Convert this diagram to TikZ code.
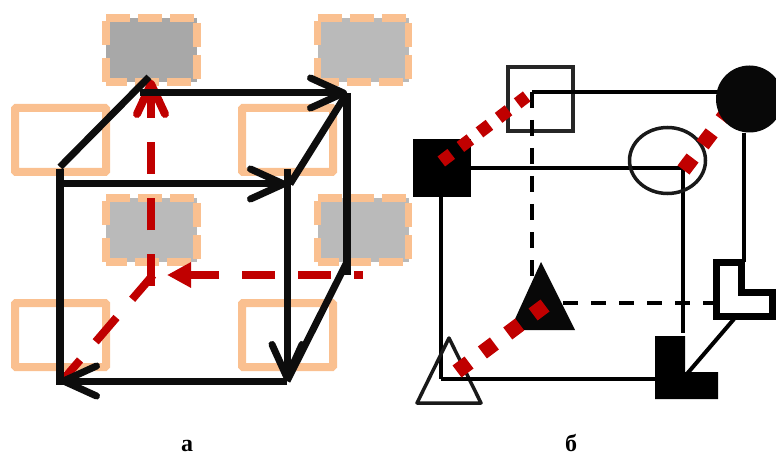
\documentclass[tikz,border=0pt]{standalone}
\usepackage{fontspec}
\setmainfont{Liberation Serif}
\usetikzlibrary{arrows.meta,shapes.geometric}
\definecolor{peach}{HTML}{FAC090}
\definecolor{redd}{HTML}{C00000}
\newcommand{\grayedges}[1]{%
  \draw[dashside] (#1.north west) -- (#1.north east);
  \draw[dashside,dash phase=27pt] (#1.north east) -- (#1.south east);
  \draw[dashside,dash phase=3pt] (#1.south west) -- (#1.south east);
  \draw[dashside,dash pattern=on 24pt off 13pt] (#1.south west) -- (#1.north west);
}
\tikzset{
  peachbox/.style={draw=peach,fill=white,line width=8pt,rounded corners=1pt,minimum width=91pt,minimum height=64pt,inner sep=0pt,outer sep=0pt},
  graybox/.style={minimum width=91pt,minimum height=64pt,inner sep=0pt,outer sep=0pt},
  dashside/.style={draw=peach,line width=7.5pt,dash pattern=on 24pt off 8pt},
  cubeline/.style={line width=7pt,black!95},
  barb/.style={-{Straight Barb[length=33pt,width=30pt,round]}},
  reddash/.style={draw=redd,line width=8pt,dash pattern=on 32pt off 24pt},
  thinline/.style={line width=4.5pt,black},
  thindash/.style={line width=4pt,black,dash pattern=on 16pt off 12pt},
  outlineshape/.style={draw=black!90,line width=3.5pt,line join=round},
  caption/.style={font=\bfseries\fontsize{24pt}{24pt}\selectfont,anchor=base,inner sep=0pt}
}
\begin{document}
\begin{tikzpicture}[x=1pt,y=-1pt]
\useasboundingbox[fill=white] (0,0) rectangle (776,457);
% panel a: boxes
\node[peachbox] (p1) at (60.5,140) {};
\node[peachbox] (p2) at (287.5,140) {};
\node[peachbox] (p3) at (60.5,335) {};
\node[peachbox] (p4) at (287.5,335) {};
\node[graybox,fill=black!34] (g1) at (151.5,50) {};
\node[graybox,fill=black!27] (g2) at (363,50) {};
\node[graybox,fill=black!27] (g3) at (151.5,230) {};
\node[graybox,fill=black!27] (g4) at (363,230) {};
\grayedges{g1}
\grayedges{g2}
\grayedges{g3}
\grayedges{g4}
% panel a: red paths
\coordinate (rv0) at (151,286);
\coordinate (rv1) at (151,80);
\coordinate (rh0) at (363,275);
\coordinate (rh1) at (167,275);
\coordinate (rd0) at (153,275);
\coordinate (rd1) at (62,381);
\draw[reddash,-{Triangle[length=20pt,width=22pt]}] (rv0) -- (rv1);
\draw[reddash,-{Straight Barb[length=30pt,width=28pt,round]}] (rv0) -- (rv1);
\draw[reddash,dash pattern=on 33pt off 23pt,dash phase=24pt,-{Triangle[length=24pt,width=24pt]}] (rh0) -- (rh1);
\draw[reddash] (rd0) -- (rd1);
% panel a: cube
\coordinate (fTLs) at (60,169);
\coordinate (fBL) at (60,381);
\coordinate (fTL) at (60,184);
\coordinate (fTR) at (287,184);
\coordinate (fTRs) at (287,169);
\coordinate (fBR) at (287,381);
\coordinate (bTL) at (149,77);
\coordinate (dTL) at (60,167);
\coordinate (bTLh) at (140,93);
\coordinate (bTR) at (347,93);
\coordinate (bBR) at (347,275);
\coordinate (dBR) at (347,262);
\coordinate (dTR) at (290,184);
\draw[cubeline,line width=8pt] (fTLs) -- ([yshift=-4pt]fBL);
\draw[cubeline] (dTL) -- (bTL);
\draw[cubeline,barb] (bTLh) -- (bTR);
\draw[cubeline,barb] (fTL) -- (fTR);
\draw[cubeline,line width=8pt] (bTR) -- (bBR);
\draw[cubeline] (dTR) -- (bTR);
\draw[cubeline] (dBR) -- (fBR);
\draw[cubeline,barb] (fTRs) -- (fBR);
\draw[cubeline,barb] (fBR) -- (fBL);
% panel b: wires
\coordinate (wBTL) at (532,92);
\coordinate (wBTR) at (720,92);
\coordinate (wBBLd) at (532,312);
\coordinate (wFTL) at (470,168);
\coordinate (wFTR) at (683,168);
\coordinate (wFBR) at (683,379);
\coordinate (wFBRs) at (683,333);
\coordinate (wFBL) at (441,379);
\coordinate (wFTLs) at (441,197);
\coordinate (wBRa) at (744,133);
\coordinate (wBRb) at (744,262);
\coordinate (wDa) at (563,303);
\coordinate (wDb) at (715,303);
\coordinate (wLa) at (686,375);
\coordinate (wLb) at (734,319);
\node[draw=black!85,line width=3.5pt,minimum width=65pt,minimum height=64pt,inner sep=0pt] (whitesq) at (540.5,99) {};
\draw[line width=4.5pt] (wBTL) -- (wBTR);
\draw[thindash] (wBTL) -- (wBBLd);
\draw[line width=3.8pt] (wFTL) -- (wFTR);
\draw[thinline] (wFTR) -- (wFBRs);
\draw[thinline] (wFTLs) -- (wFBL);
\draw[thinline] (wBRa) -- (wBRb);
\node[ellipse,draw=black!90,line width=3.5pt,minimum width=76pt,minimum height=66pt,inner sep=0pt] (opencirc) at (667.5,160.5) {};
\draw[thindash,dash pattern=on 15pt off 13pt] (wDa) -- (wDb);
% panel b: shapes
\node[fill=black,minimum width=58pt,minimum height=58pt,inner sep=0pt] (blacksq) at (442,168) {};
\coordinate (t1a) at (541,262);
\coordinate (t1b) at (510,330);
\coordinate (t1c) at (575,330);
\fill[black!97] (t1a) -- (t1b) -- (t1c) -- cycle;
\coordinate (t2a) at (449,338);
\coordinate (t2b) at (417,403);
\coordinate (t2c) at (481,403);
\draw[outlineshape] (t2a) -- (t2b) -- (t2c) -- cycle;
% L shapes
\fill[black] (655,336) -- (685,336) -- (685,372) -- (718,372) -- (718,399) -- (655,399) -- cycle;
\draw[thinline] (wFBL) -- (wFBR);
\draw[line width=4pt] (wLa) -- (wLb);
\draw[line width=7pt,line join=miter] (716.5,262.5) -- (741.5,262.5) -- (741.5,292) -- (772.5,292) -- (772.5,316) -- (716.5,316) -- cycle;
% panel b: red squares
\coordinate (ra0) at (441.3,161.5);
\coordinate (ra1) at (526.7,96.4);
\coordinate (rb0) at (683.5,170);
\coordinate (rb1) at (735,102);
\coordinate (rc0) at (457,371.5);
\coordinate (rc1) at (545,305.5);
\draw[draw=redd,line width=12.5pt,dash pattern=on 12.5pt off 11.5pt] (ra0) -- (ra1);
\draw[draw=redd,line width=15pt,dash pattern=on 15pt off 16.6pt] (rb0) -- (rb1);
\draw[draw=redd,line width=15pt,dash pattern=on 15pt off 16.7pt] (rc0) -- (rc1);
\node[circle,fill=black!97,minimum size=67pt,inner sep=0pt] (blackcirc) at (749.5,99) {};
% captions
\node[caption] (capa) at (187,451) {а};
\node[caption] (capb) at (571,451) {б};
\end{tikzpicture}
\end{document}
